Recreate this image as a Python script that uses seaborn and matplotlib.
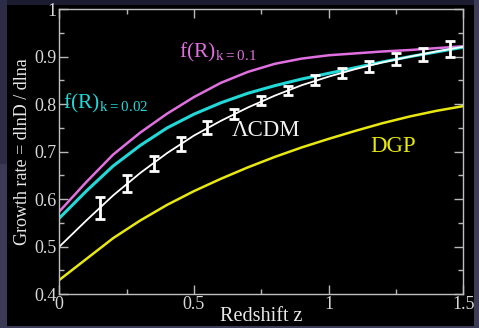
import matplotlib
matplotlib.use("Agg")
import matplotlib.pyplot as plt
from matplotlib.patches import Rectangle
from matplotlib.ticker import MultipleLocator, FuncFormatter
import seaborn as sns
import pandas as pd

# ---- data ----
z_curve = [0.0, 0.1, 0.2, 0.3, 0.4, 0.5, 0.6, 0.7, 0.8, 0.9, 1.0, 1.1, 1.2, 1.3, 1.4, 1.5]
f_fR01 = [0.574, 0.636, 0.694, 0.740, 0.780, 0.815, 0.845, 0.868, 0.885, 0.896, 0.903, 0.907, 0.911, 0.914, 0.918, 0.922]
f_fR002 = [0.560, 0.617, 0.670, 0.713, 0.750, 0.779, 0.803, 0.823, 0.839, 0.853, 0.865, 0.877, 0.889, 0.900, 0.910, 0.920]
f_lcdm = [0.500, 0.555, 0.608, 0.655, 0.697, 0.734, 0.765, 0.793, 0.818, 0.840, 0.858, 0.874, 0.888, 0.900, 0.911, 0.921]
f_dgp = [0.430, 0.474, 0.518, 0.555, 0.588, 0.617, 0.643, 0.667, 0.689, 0.709, 0.727, 0.744, 0.760, 0.774, 0.786, 0.796]

z_data = [0.15, 0.25, 0.35, 0.45, 0.55, 0.65, 0.75, 0.85, 0.95, 1.05, 1.15, 1.25, 1.35, 1.45]
f_data = [0.582, 0.634, 0.676, 0.716, 0.751, 0.779, 0.807, 0.829, 0.850, 0.866, 0.880, 0.895, 0.905, 0.916]
f_err = [0.023, 0.018, 0.016, 0.014, 0.013, 0.011, 0.0095, 0.010, 0.0105, 0.011, 0.012, 0.012, 0.013, 0.0165]

x_ticks = [0, 0.5, 1, 1.5]
y_ticks = [0.4, 0.5, 0.6, 0.7, 0.8, 0.9, 1.0]

sns.set_theme(style="dark")
plt.rcParams["font.family"] = ["Liberation Serif", "DejaVu Serif"]
plt.rcParams["mathtext.fontset"] = "custom"
plt.rcParams["mathtext.rm"] = "Liberation Serif"

fig = plt.figure(figsize=(4.79, 3.28), dpi=100, facecolor="#1c1c30")
# slide frame: black panel inside navy border, lighter right/bottom strip
fig.patches.append(Rectangle((0, 0), 7 / 479, 1, transform=fig.transFigure,
                             facecolor="#2c2c46", edgecolor="none", zorder=-3))
fig.patches.append(Rectangle((0, 0), 7 / 479, 0.5, transform=fig.transFigure,
                             facecolor="#3a3a56", edgecolor="none", zorder=-3))
fig.patches.append(Rectangle((474 / 479, 0), 5 / 479, 1, transform=fig.transFigure,
                             facecolor="#3c3c58", edgecolor="none", zorder=-3))
fig.patches.append(Rectangle((0, 0), 1, 2 / 328, transform=fig.transFigure,
                             facecolor="#3c3c58", edgecolor="none", zorder=-3))
fig.patches.append(Rectangle((7 / 479, 2 / 328), 467 / 479, 321 / 328,
                             transform=fig.transFigure, facecolor="black",
                             edgecolor="none", zorder=-2))

ax = fig.add_axes([59.3 / 479, (328 - 294.2) / 328, 404 / 479, 285 / 328])
ax.set_facecolor("black")

df = pd.DataFrame({"z": z_curve, "fR01": f_fR01, "fR002": f_fR002,
                   "lcdm": f_lcdm, "dgp": f_dgp})
sns.lineplot(data=df, x="z", y="fR01", ax=ax, color="#e070e0", lw=1.8)
sns.lineplot(data=df, x="z", y="fR002", ax=ax, color="#22d8d8", lw=2.2)
sns.lineplot(data=df, x="z", y="lcdm", ax=ax, color="white", lw=1.3)
sns.lineplot(data=df, x="z", y="dgp", ax=ax, color="#e8e810", lw=1.8)

ax.errorbar(z_data, f_data, yerr=f_err, fmt="none", ecolor="white",
            elinewidth=2.0, capsize=3.8, capthick=2.0, zorder=5)

ax.set_xlim(0, 1.5)
ax.set_ylim(0.4, 1.0)
ax.xaxis.set_major_locator(MultipleLocator(0.5))
ax.xaxis.set_minor_locator(MultipleLocator(0.25))
ax.yaxis.set_major_locator(MultipleLocator(0.1))
ax.yaxis.set_minor_locator(MultipleLocator(0.05))
fmt = FuncFormatter(lambda v, p: "%g" % round(v, 3))
ax.xaxis.set_major_formatter(fmt)
ax.yaxis.set_major_formatter(fmt)
ax.tick_params(which="both", direction="in", top=True, right=True,
               bottom=True, left=True, color="#b8b8b8", width=1.0,
               labelcolor="#d8d8d8", labelsize=13)
ax.tick_params(which="major", length=6.5, pad=2)
ax.tick_params(which="minor", length=3.5)
ax.tick_params(axis="x", pad=1)
for s in ax.spines.values():
    s.set_color("#c0c0c0")
    s.set_linewidth(1.0)
    s.set_visible(True)
ax.grid(False)

ax.set_xlabel("Redshift z", color="#e8e8e8", fontsize=14.5, labelpad=-4)
ax.set_ylabel("Growth rate = dlnD / dlna", color="#e8e8e8", fontsize=13, labelpad=2)

ax.text(0.445, 0.898, r"f(R)$_{\mathrm{k{=}0.1}}$", color="#e070e0", fontsize=15.5)
ax.text(0.012, 0.790, r"f(R)$_{\mathrm{k{=}0.02}}$", color="#22d8d8", fontsize=15.5)
ax.text(0.64, 0.733, "\u039bCDM", color="#f0f0f0", fontsize=16.5)
ax.text(1.155, 0.700, "DGP", color="#e8e810", fontsize=16.5)

fig.savefig("out.png", dpi=100, facecolor=fig.get_facecolor())
